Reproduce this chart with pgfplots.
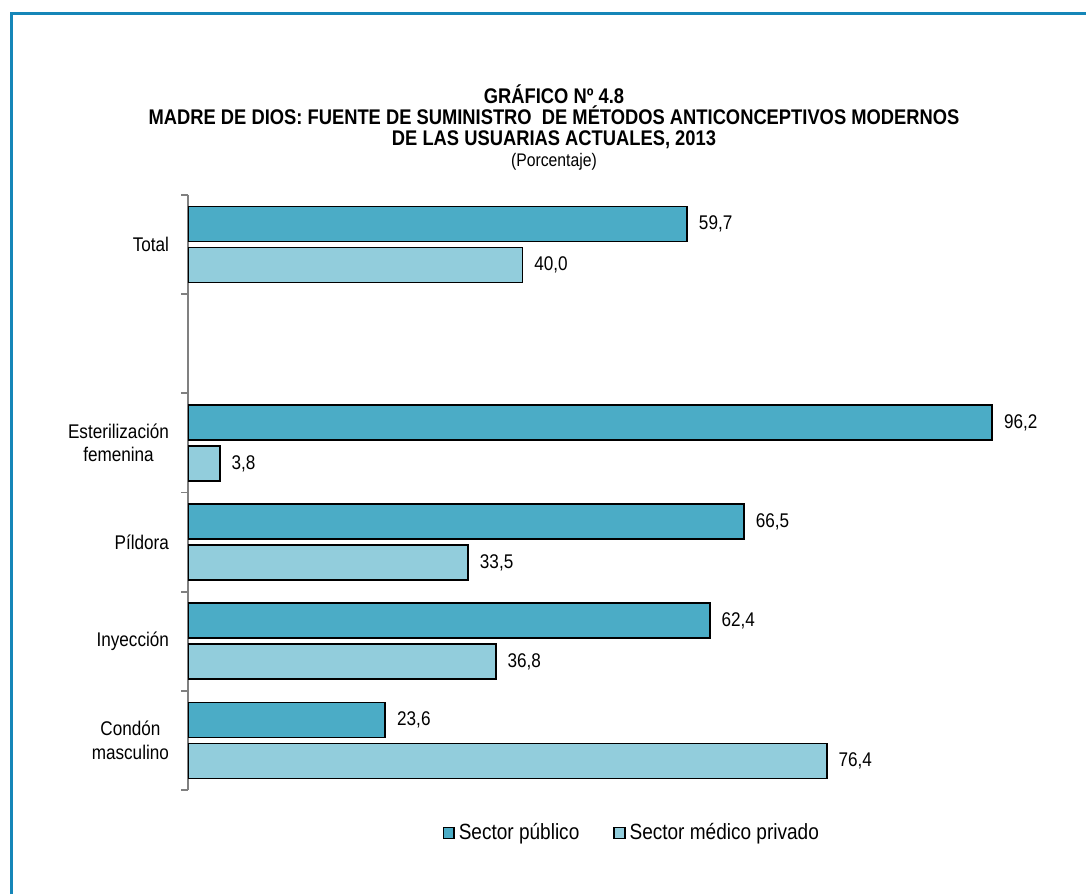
\documentclass[border=0pt]{standalone}
\usepackage{pgfplots}
\pgfplotsset{compat=1.18}
\usepackage{fontspec}
\setmainfont{Liberation Sans}[FakeStretch=0.865]
\definecolor{publico}{RGB}{75,172,198}
\definecolor{privado}{RGB}{146,205,220}
\definecolor{marco}{RGB}{21,134,184}

\begin{document}
\begin{tikzpicture}
\useasboundingbox (0,0) rectangle (543pt,447pt);
% marco
\draw[marco, line width=1.5pt] (5.5pt,0) -- (5.5pt,440pt) -- (543pt,440pt);
% titulo
\node[align=center, font=\bfseries\fontsize{10.6}{10.5}\selectfont] at (277pt,388.5pt)
  {GRÁFICO Nº 4.8\\MADRE DE DIOS: FUENTE DE SUMINISTRO\ \ DE MÉTODOS ANTICONCEPTIVOS MODERNOS\\DE LAS USUARIAS ACTUALES, 2013};
\node[font=\fontsize{9.1}{10}\selectfont] at (277pt,366pt) {(Porcentaje)};

\begin{axis}[
    at={(94pt,52pt)}, anchor=south west,
    scale only axis,
    width=418pt, height=297.5pt,
    xbar, bar width=17.5pt,
    xmin=0, xmax=100,
    ymin=-0.5, ymax=5.5,
    hide x axis,
    axis y line*=left,
    y axis line style={gray, line width=0.9pt},
    ytick={0,...,5},
    yticklabels={Condón\\masculino, Inyección, Píldora, Esterilización\\femenina, {}, Total},
    yticklabel style={align=center, font=\fontsize{9.9}{11.8}\selectfont, xshift=-6pt},
    major tick length=0pt,
    extra y ticks={-0.5,0.5,1.5,2.5,3.5,4.5,5.5},
    extra y tick labels={},
    extra y tick style={major tick length=3.5pt, tick align=outside,
        tick style={gray, line width=0.9pt}},
    /pgf/number format/assume math mode=true,
    nodes near coords,
    nodes near coords style={font=\fontsize{9.9}{11}\selectfont, inner sep=4pt, xshift=1.5pt,
        /pgf/number format/.cd, fixed, fixed zerofill, precision=1, use comma},
    legend style={at={(0.532,-0.072)}, anchor=center, draw=none,
        legend columns=2, font=\fontsize{11}{12}\selectfont,
        /tikz/every even column/.append style={column sep=15pt}},
    legend image code/.code={\draw[#1, line width=0.7pt] (0pt,-2.7pt) rectangle (5.4pt,2.7pt);},
]
\addplot[fill=publico, draw=black, line width=0.9pt, bar shift=10.25pt] coordinates {
    (59.7,5) (96.2,3) (66.5,2) (62.4,1) (23.6,0)
};
\addlegendentry{Sector público}
\addplot[fill=privado, draw=black, line width=0.9pt, bar shift=-10.25pt] coordinates {
    (40.0,5) (3.8,3) (33.5,2) (36.8,1) (76.4,0)
};
\addlegendentry{Sector médico privado}
\end{axis}
\end{tikzpicture}
\end{document}
